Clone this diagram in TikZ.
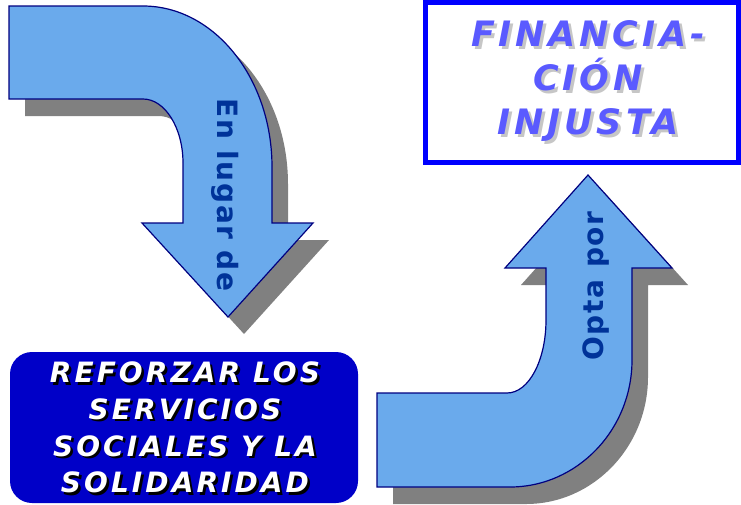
\documentclass[tikz,border=0pt]{standalone}
\usepackage{fontspec}
\setmainfont{DejaVu Sans}
\newfontfamily\wideface[LetterSpace=11]{DejaVu Sans}
\newfontfamily\labelface[LetterSpace=6]{DejaVu Sans}

\definecolor{arrowfill}{RGB}{106,170,236}
\definecolor{arrowline}{RGB}{0,0,128}
\definecolor{arrowtext}{RGB}{0,51,153}
\definecolor{shadowgray}{RGB}{128,128,128}
\definecolor{finblue}{RGB}{0,0,255}
\definecolor{fintext}{RGB}{90,90,255}
\definecolor{solidblue}{RGB}{0,0,200}

\begin{document}
\begin{tikzpicture}[x=1pt,y=-1pt,
  arrowbody/.style={fill=arrowfill,draw=arrowline,line width=1.2pt},
  arrowshadow/.style={fill=shadowgray},
  arrowlabel/.style={text=arrowtext,inner sep=0,anchor=base,
    font=\labelface\bfseries\fontsize{28}{34}\selectfont},
  finlabel/.style={align=center,inner sep=0,
    font=\wideface\bfseries\itshape\fontsize{35}{44}\selectfont},
  solidlabel/.style={align=center,inner sep=0,
    font=\wideface\bfseries\itshape\fontsize{28}{36.7}\selectfont}]
  % Constants
  \pgfmathsetmacro\dx{16}
  \pgfmathsetmacro\dy{17}
  % Boundary
  \path[use as bounding box] (0,0) rectangle (741,504);
  % Bent arrows, shadow first
  \foreach \sx/\sy/\look in {\dx/\dy/arrowshadow, 0/0/arrowbody} {
    \path[\look,shift={(\sx,\sy)}] (9,6) -- (143,6)
      .. controls (214,6) and (272,78) .. (272,167) -- (272,223)
      -- (313,223) -- (228,317) -- (142,223) -- (183,223) -- (183,163)
      .. controls (183,128) and (165,99) .. (143,99) -- (9,99) -- cycle;
    \path[\look,shift={(\sx,\sy)}] (377,393) -- (507,393)
      .. controls (529,393) and (546,360) .. (546,320) -- (546,268)
      -- (505,268) -- (588,175) -- (672,268) -- (632,268) -- (632,360)
      .. controls (632,430) and (577,487) .. (510,487) -- (377,487) -- cycle;
  }
  % Arrow labels
  \node[arrowlabel,rotate=-90] (enlugar) at (217,195) {En lugar de};
  \node[arrowlabel,rotate=90] (optapor) at (603,286) {Opta por};
  % Top box
  \node[draw=finblue,line width=5pt,minimum width=313pt,minimum height=160pt,inner sep=0] (finbox) at (582,82.5) {};
  \node[finlabel,text=gray!45] (finshadow) at (591,84.5) {FINANCIA-\\CIÓN\\INJUSTA};
  \node[finlabel,text=fintext] (fintext) at (588,81.5) {FINANCIA-\\CIÓN\\INJUSTA};
  % Bottom box
  \node[fill=solidblue,rounded corners=22pt,minimum width=348pt,minimum height=151pt,inner sep=0] (solidbox) at (184,427.5) {};
  \node[solidlabel,text=black] at ([shift={(3.5,2.5)}]solidbox.center) (solidshadow) {REFORZAR LOS\\SERVICIOS\\SOCIALES Y LA\\SOLIDARIDAD};
  \node[solidlabel,text=white] at ([shift={(1,0)}]solidbox.center) (solidtext) {REFORZAR LOS\\SERVICIOS\\SOCIALES Y LA\\SOLIDARIDAD};
\end{tikzpicture}
\end{document}
